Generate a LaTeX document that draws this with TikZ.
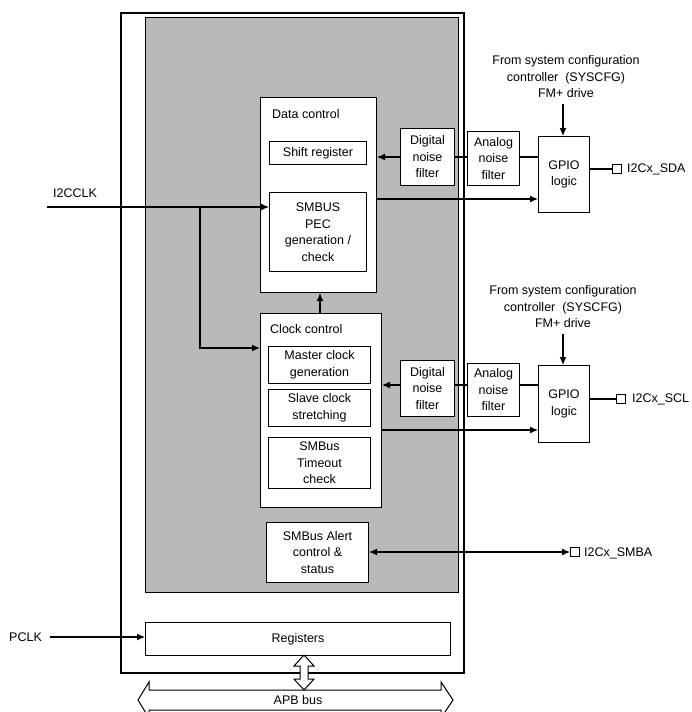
\documentclass[tikz,border=0pt]{standalone}
\usepackage{fontspec}
\setmainfont{Liberation Sans}
\usetikzlibrary{arrows.meta}
\pgfdeclarelayer{bg}
\pgfsetlayers{bg,main}
\begin{document}
\begin{tikzpicture}[x=1pt,y=-1pt,
 box/.style={draw,line width=1pt,fill=white},
 arr/.style={line width=1.2pt,-{Latex[length=8pt,width=7pt]}},
 ln/.style={line width=1.2pt},
 txt/.style={font=\fontsize{12.5}{16.5}\selectfont,align=center,inner sep=0pt},
 pin/.style={draw,line width=0.8pt,fill=white,minimum size=9pt,inner sep=0pt}]
\useasboundingbox (0,0) rectangle (691,712);
\begin{scope}
\clip (0,0) rectangle (691,712);
\node[box,minimum width=343pt,minimum height=660pt,anchor=north west,line width=1.5pt] (outer) at (120,12) {};
\node[draw,line width=1pt,fill=gray!55,minimum width=313pt,minimum height=575pt,anchor=north west] (gray) at (145,17) {};
% data control
\node[box,minimum width=116pt,minimum height=195pt,anchor=north west] (dc) at (260,97) {};
\node[txt,anchor=west] (dcl) at (272,114) {Data control};
\node[box,txt,minimum width=97pt,minimum height=23pt,anchor=north west] (sr) at (269,141) {Shift register};
\node[box,txt,minimum width=97pt,minimum height=79pt,anchor=north west] (pec) at (269,192) {SMBUS\\PEC\\generation /\\check};
% clock control
\node[box,minimum width=121pt,minimum height=194pt,anchor=north west] (cc) at (260,313) {};
\node[txt,anchor=west] (ccl) at (270,329) {Clock control};
\node[box,txt,minimum width=102pt,minimum height=37pt,anchor=north west] (mc) at (268,346) {Master clock\\generation};
\node[box,txt,minimum width=102pt,minimum height=37pt,anchor=north west] (sc) at (268,389) {Slave clock\\stretching};
\node[box,txt,minimum width=102pt,minimum height=51pt,anchor=north west] (to) at (268,437) {SMBus\\Timeout\\check};
\node[box,txt,minimum width=102pt,minimum height=60pt,anchor=north west] (al) at (266,522) {SMBus Alert\\control \&\\status};
\node[box,txt,minimum width=305pt,minimum height=33pt,anchor=north west] (reg) at (145,622) {Registers};
% filters
\node[box,txt,minimum width=54pt,minimum height=57pt,anchor=north west] (df1) at (400,128) {Digital\\noise\\filter};
\node[box,txt,minimum width=52pt,minimum height=54pt,anchor=north west] (af1) at (467,131) {Analog\\noise\\filter};
\node[box,txt,minimum width=51pt,minimum height=76pt,anchor=north west] (g1) at (538,136) {GPIO\\logic};
\node[box,txt,minimum width=54pt,minimum height=56pt,anchor=north west] (df2) at (400,360) {Digital\\noise\\filter};
\node[box,txt,minimum width=52pt,minimum height=53pt,anchor=north west] (af2) at (467,363) {Analog\\noise\\filter};
\node[box,txt,minimum width=51pt,minimum height=77pt,anchor=north west] (g2) at (538,365) {GPIO\\logic};
\node[pin] (p1) at (617,169) {};
\node[txt,anchor=west] (t1) at (627,169) {I2Cx\_SDA};
\node[pin] (p2) at (621,399) {};
\node[txt,anchor=west] (t2) at (632,399) {I2Cx\_SCL};
\node[pin] (p3) at (575,552) {};
\node[txt,anchor=west] (t3) at (584,553) {I2Cx\_SMBA};
\node[txt] (s1) at (566,77) {From system configuration\\controller\ \ (SYSCFG)\\FM+ drive};
\node[txt] (s2) at (563,307) {From system configuration\\controller\ \ (SYSCFG)\\FM+ drive};
\node[txt,anchor=west] (ck) at (53,193) {I2CCLK};
\node[txt,anchor=west] (pk) at (9,637) {PCLK};
\coordinate (ckL) at (47,207);
\coordinate (pkL) at (50,637);
\coordinate (br) at (200,207);
% connectors
\draw[arr] (ckL) -- (pec.west |- ckL);
\draw[arr] (br) |- (cc.west |- 0,348);
\draw[arr] (cc.north -| 320,0) -- (dc.south -| 320,0);
\draw[arr] (df1.west |- 0,157) -- (dc.east |- 0,157);
\draw[ln] (df1.east |- 0,157) -- (af1.west |- 0,157);
\draw[ln] (af1.east |- 0,157) -- (g1.west |- 0,157);
\draw[arr] (dc.east |- 0,199) -- (g1.west |- 0,199);
\draw[ln] (g1.east |- p1) -- (p1);
\draw[arr] (563,104) -- (g1.north -| 563,0);
\draw[arr] (df2.west |- 0,385) -- (cc.east |- 0,385);
\draw[ln] (df2.east |- 0,385) -- (af2.west |- 0,385);
\draw[ln] (af2.east |- 0,385) -- (g2.west |- 0,385);
\draw[arr] (cc.east |- 0,430) -- (g2.west |- 0,430);
\draw[ln] (g2.east |- p2) -- (p2);
\draw[arr] (563,334) -- (g2.north -| 563,0);
\draw[line width=1.2pt,{Latex[length=8pt,width=7pt]}-{Latex[length=8pt,width=7pt]}] (al.east |- p3) -- (p3);
\draw[arr] (pkL) -- (reg.west |- pkL);
% vertical hollow double arrow
\draw[line width=1pt,fill=white] (304,655) -- (314,666) -- (308,666) -- (308,679) -- (314,679) -- (304,690) -- (294,679) -- (300,679) -- (300,666) -- (294,666) -- cycle;
% APB bus arrow
\draw[line width=1pt,fill=white] (138,700) -- (149,682) -- (149,690) -- (441,690) -- (441,682) -- (453,700) -- (441,718) -- (441,710) -- (149,710) -- (149,718) -- cycle;
\node[txt] (apb) at (298,700) {APB bus};
\end{scope}
\end{tikzpicture}
\end{document}
